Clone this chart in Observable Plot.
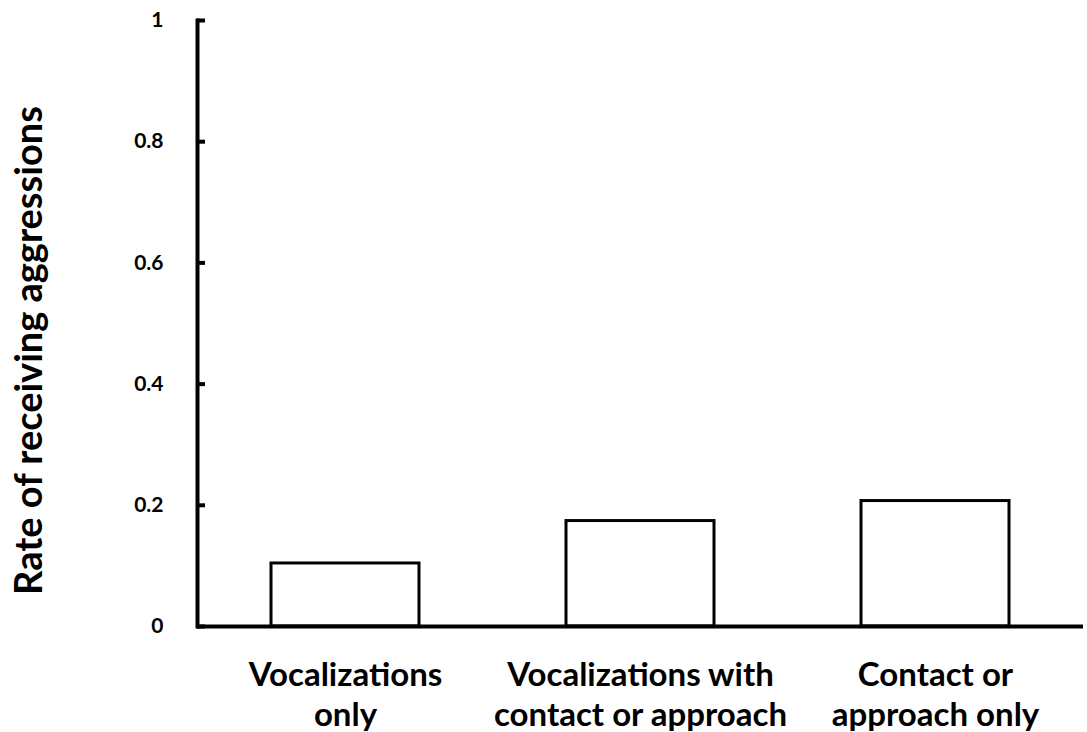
<!DOCTYPE html>
<html>
<head>
<meta charset="utf-8">
<script src="https://cdn.jsdelivr.net/npm/d3@7"></script>
<script src="https://cdn.jsdelivr.net/npm/@observablehq/plot@0.6"></script>
<style>
  html, body { margin: 0; padding: 0; background: #fff; }
</style>
</head>
<body>
<div id="chart"></div>
<script>
const categories = ["Vocalizations only", "Vocalizations with contact or approach", "Contact or approach only"];
const values = [0.104, 0.174, 0.207];
const tickLabels = ["Vocalizations\nonly", "Vocalizations with\ncontact or approach", "Contact or\napproach only"];
const yTicks = [0, 0.2, 0.4, 0.6, 0.8, 1];
const yTitle = "Rate of receiving aggressions";

const data = categories.map((c, i) => ({category: c, value: values[i]}));
const labelOf = new Map(categories.map((c, i) => [c, tickLabels[i]]));

const chart = Plot.plot({
  width: 1087,
  height: 732,
  marginLeft: 197,
  marginRight: 4,
  marginTop: 20,
  marginBottom: 106,
  style: {fontFamily: "Lato, 'Open Sans', sans-serif", fontWeight: "bold", color: "#000", background: "#fff"},
  x: {domain: categories, paddingInner: 0.5, paddingOuter: 0.25},
  y: {domain: [0, 1]},
  marks: [
    Plot.barY(data, {x: "category", y: "value", fill: "white", stroke: "black", strokeWidth: 3}),
    Plot.frame({anchor: "left", stroke: "black", strokeWidth: 4}),
    Plot.ruleY([0], {stroke: "black", strokeWidth: 4}),
    Plot.axisY({ticks: yTicks, tickSize: -8, tickFormat: () => "", strokeWidth: 4, label: null}),
    Plot.axisY({ticks: yTicks, tickSize: 0, tickPadding: 34, fontSize: 21, tickFormat: d => String(d), label: null}),
    Plot.axisX({tickSize: 0, tickPadding: 31, fontSize: 33, lineHeight: 1.22, tickFormat: d => labelOf.get(d), label: null}),
    Plot.text([yTitle], {frameAnchor: "left", textAnchor: "middle", rotate: -90, dx: -168, dy: 27, fontSize: 38, fill: "black"})
  ]
});
document.getElementById("chart").appendChild(chart);
</script>
</body>
</html>
